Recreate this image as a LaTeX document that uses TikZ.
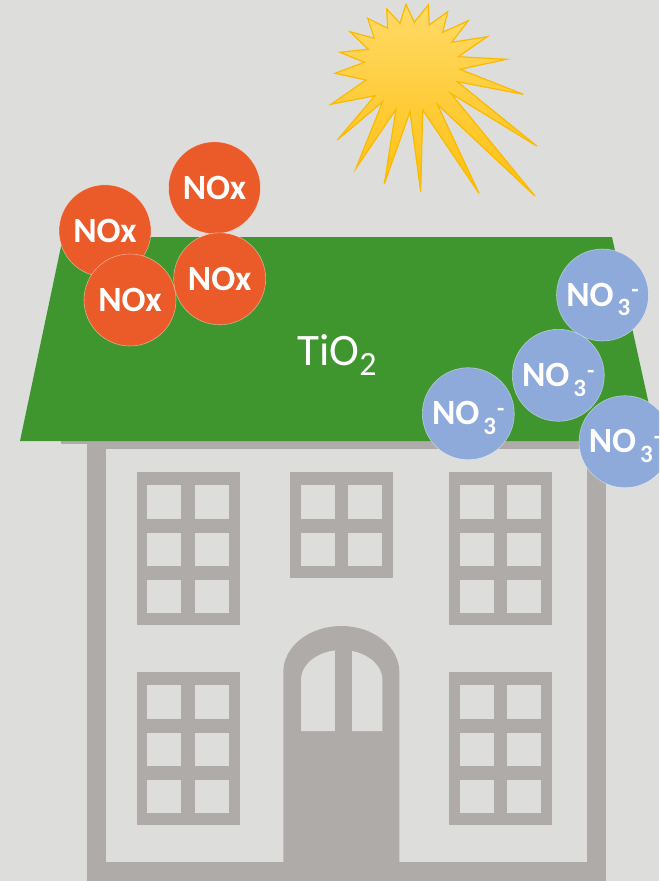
\documentclass[tikz,border=0pt]{standalone}
\usepackage{fontspec}
\setmainfont{Carlito}

\definecolor{bgcol}{RGB}{221,221,219}
\definecolor{housecol}{RGB}{175,171,169}
\definecolor{roofcol}{RGB}{64,150,46}
\definecolor{noxcol}{RGB}{235,91,41}
\definecolor{nitratecol}{RGB}{142,170,219}
\definecolor{sunlight}{RGB}{255,218,104}
\definecolor{sundeep}{RGB}{255,192,14}
\definecolor{sunedge}{RGB}{250,186,0}

% fixed cap height so the labels sit centred in their balls
\newcommand\capbox[1]{\raisebox{0pt}[22.5pt][0pt]{#1}}

\tikzset{
  ball/.style={circle, minimum size=92pt, inner sep=0pt,
    draw=white, draw opacity=0.45, line width=0.6pt,
    text=white, font=\bfseries\fontsize{35.5}{36}\selectfont},
  noxball/.style={ball, fill=noxcol},
  nitrateball/.style={ball, fill=nitratecol},
  frame/.style={fill=housecol},
  pane/.style={fill=bgcol},
}

% window: #1,#2 top-left corner, #3 height, #4 row offsets
\newcommand\windowgrid[4]{%
  \fill[frame] (#1,#2) rectangle ++(103.3,#3);
  \foreach \r in {#4}{%
    \foreach \c in {10.6,58.3}{%
      \fill[pane] ({#1+\c},{#2+\r}) rectangle ++(34,33.7);
    }%
  }%
}

\newcommand\nitrate{\capbox{\bfseries NO\hspace{4pt}\raisebox{-9.5pt}{\fontsize{25}{25}\selectfont 3}\hspace{1pt}\raisebox{8.5pt}{\fontsize{24}{24}\selectfont -}}}

\begin{document}
\begin{tikzpicture}[x=1pt,y=-1pt]
  \useasboundingbox (0,0) rectangle (659,881);
  \clip (0,0) rectangle (659,881);
  \fill[bgcol] (0,0) rectangle (659,881);

  % sun
  \shade[top color=sunlight, bottom color=sundeep, draw=sunedge, line width=1.2pt, line join=miter]
    (406.0,4.3) -- (414.3,22.3) -- (428.3,5.0) -- (429.3,25.0) -- (447.7,11.7)
    -- (442.7,32.3) -- (468.3,20.7) -- (451.7,42.3) -- (487.3,36.7) -- (458.3,56.7)
    -- (506.7,59.3) -- (460.0,69.3) -- (523.3,94.3) -- (457.3,81.7) -- (536.7,146.0)
    -- (450.7,93.3) -- (535.0,196.0) -- (437.3,104.3) -- (479.0,193.3) -- (422.7,110.0)
    -- (420.7,191.7) -- (410.0,111.7) -- (384.3,184.0) -- (396.0,109.3) -- (356.0,168.3)
    -- (382.7,101.7) -- (337.3,140.0) -- (375.0,95.7) -- (331.0,104.3) -- (366.0,80.0)
    -- (335.0,73.3) -- (364.3,62.3) -- (340.0,52.3) -- (368.3,49.3) -- (350.0,31.7)
    -- (374.3,38.3) -- (367.7,18.3) -- (387.7,28.3) -- (386.7,9.0) -- (400.0,23.3)
    -- cycle;

  % house body
  \fill[frame] (61,441) rectangle (632,444.3);
  \fill[frame] (87,441) rectangle (606,881);
  \fill[pane] (106,449) rectangle (587,862);

  % windows
  \windowgrid{136.7}{472.3}{153}{12.7,60.2,107.2}
  \windowgrid{290}{472.3}{106}{12.7,60.2}
  \windowgrid{449}{472.3}{153}{12.7,60.2,107.2}
  \windowgrid{136.7}{672.3}{153}{12.7,60.2,107.2}
  \windowgrid{449}{672.3}{153}{12.7,60.2,107.2}

  % door
  \fill[frame] (283.3,862) -- (283.3,672)
    arc[start angle=180, end angle=0, x radius=58pt, y radius=46pt]
    -- (399.3,862) -- cycle;
  \fill[pane] (301,731) -- (301,680)
    arc[start angle=180, end angle=0, x radius=40.7pt, y radius=30pt]
    -- (382.4,731) -- cycle;
  \fill[frame] (334.7,640) rectangle (351.7,732);

  % roof
  \fill[roofcol] (20,441) -- (63,237) -- (612,237) -- (657,441) -- cycle;
  \node[anchor=base west, text=white, font=\fontsize{45}{45}\selectfont, inner sep=0pt]
    (tio2) at (297,365) {TiO\raisebox{-10.7pt}{\fontsize{34}{34}\selectfont 2}};

  % nitrogen oxides
  \node[noxball] (noxtop)   at (214.5,187.8) {\capbox{NOx}};
  \node[noxball] (noxleft)  at (105,230.8)   {\capbox{NOx}};
  \node[noxball] (noxlow)   at (130,300)     {\capbox{NOx}};
  \node[noxball] (noxright) at (219.7,278.8) {\capbox{NOx}};

  % nitrate ions
  \node[nitrateball] (nitop)   at (602.5,295)   {\nitrate};
  \node[nitrateball] (nimid)   at (558.3,375.3) {\nitrate};
  \node[nitrateball] (nileft)  at (468.3,413.7) {\nitrate};
  \node[nitrateball] (nicorner) at (625,441.7)  {\nitrate};
\end{tikzpicture}
\end{document}
